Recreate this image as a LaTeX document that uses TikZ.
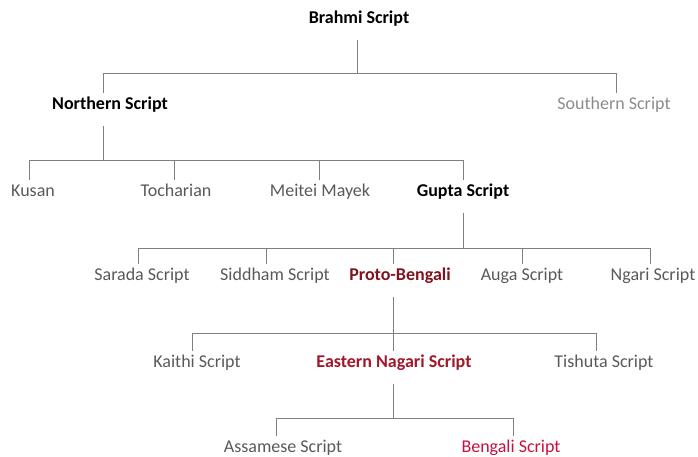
\documentclass[tikz,border=0pt]{standalone}
\usepackage{fontspec}
\setmainfont{Carlito}
\definecolor{linegray}{HTML}{7F7F7F}
\definecolor{txtgray}{HTML}{595959}
\definecolor{paletxt}{HTML}{8C8C8C}
\definecolor{darkred}{HTML}{7E1420}
\definecolor{midred}{HTML}{A0182A}
\definecolor{crimson}{HTML}{C8103E}

\begin{document}
\begin{tikzpicture}[x=1pt, y=-1pt,
  script/.style={font=\fontsize{18}{21}\selectfont, text=txtgray, inner sep=0pt,
    text height=13.5pt, text depth=4.5pt, outer ysep=3pt},
  major/.style={script, font=\fontsize{18}{21}\selectfont\bfseries, text=black},
  link/.style={draw=linegray, line width=0.9pt},
  stem/.style={link, shorten <=9pt}]

\useasboundingbox (0,0) rectangle (698,457);

% -------- Scripts -----------
\node[major] (brahmi) at (359,19) {Brahmi Script};

\node[major] (northern) at (110,105) {Northern Script};
\node[script, text=paletxt] (southern) at (614,105) {Southern Script};

\node[script] (kusan) at (33,192) {Kusan};
\node[script] (tocharian) at (176,192) {Tocharian};
\node[script] (meitei) at (320,192) {Meitei Mayek};
\node[major] (gupta) at (463,192) {Gupta Script};

\node[script] (sarada) at (142,276) {Sarada Script};
\node[script] (siddham) at (275,276) {Siddham Script};
\node[major, text=darkred] (proto) at (400,276) {Proto-Bengali};
\node[script] (auga) at (522,276) {Auga Script};
\node[script] (ngari) at (653,276) {Ngari Script};

\node[script] (kaithi) at (197,363) {Kaithi Script};
\node[major, text=midred] (eastern) at (394,363) {Eastern Nagari Script};
\node[script] (tishuta) at (604,363) {Tishuta Script};

\node[script] (assamese) at (283,448) {Assamese Script};
\node[script, text=crimson] (bengali) at (511,448) {Bengali Script};

% -------- Connectors -----------
\coordinate (bus1) at (0,73);
\coordinate (bus2) at (0,160);
\coordinate (bus3) at (0,248);
\coordinate (bus4) at (0,333);
\coordinate (bus5) at (0,418);

\draw[stem] ([xshift=-2pt]brahmi.south) -- ([xshift=-2pt]brahmi.south |- bus1);
\draw[link] ([xshift=-7pt]northern.north) |- ([xshift=2pt]southern.north |- bus1) -- ([xshift=2pt]southern.north);

\draw[stem] ([xshift=-7pt]northern.south) -- ([xshift=-7pt]northern.south |- bus2);
\draw[link] ([xshift=-4pt]kusan.north) |- (gupta.north |- bus2) -- (gupta.north);
\draw[link] ([xshift=-2pt]tocharian.north) -- ([xshift=-2pt]tocharian.north |- bus2);
\draw[link] ([xshift=-1pt]meitei.north) -- ([xshift=-1pt]meitei.north |- bus2);

\draw[stem] (gupta.south) -- (gupta.south |- bus3);
\draw[link] ([xshift=-4pt]sarada.north) |- ([xshift=-3pt]ngari.north |- bus3) -- ([xshift=-3pt]ngari.north);
\draw[link] ([xshift=-9pt]siddham.north) -- ([xshift=-9pt]siddham.north |- bus3);
\draw[link] ([xshift=-7pt]proto.north) -- ([xshift=-7pt]proto.north |- bus3);
\draw[link] (auga.north) -- (auga.north |- bus3);

\draw[stem] ([xshift=-7pt]proto.south) -- ([xshift=-7pt]proto.south |- bus4);
\draw[link] ([xshift=-5pt]kaithi.north) |- ([xshift=-8pt]tishuta.north |- bus4) -- ([xshift=-8pt]tishuta.north);
\draw[link] ([xshift=-1pt]eastern.north) -- ([xshift=-1pt]eastern.north |- bus4);

\draw[stem] ([xshift=-1pt]eastern.south) -- ([xshift=-1pt]eastern.south |- bus5);
\draw[link] ([xshift=-7pt]assamese.north) |- ([xshift=2pt]bengali.north |- bus5) -- ([xshift=2pt]bengali.north);
\end{tikzpicture}
\end{document}
